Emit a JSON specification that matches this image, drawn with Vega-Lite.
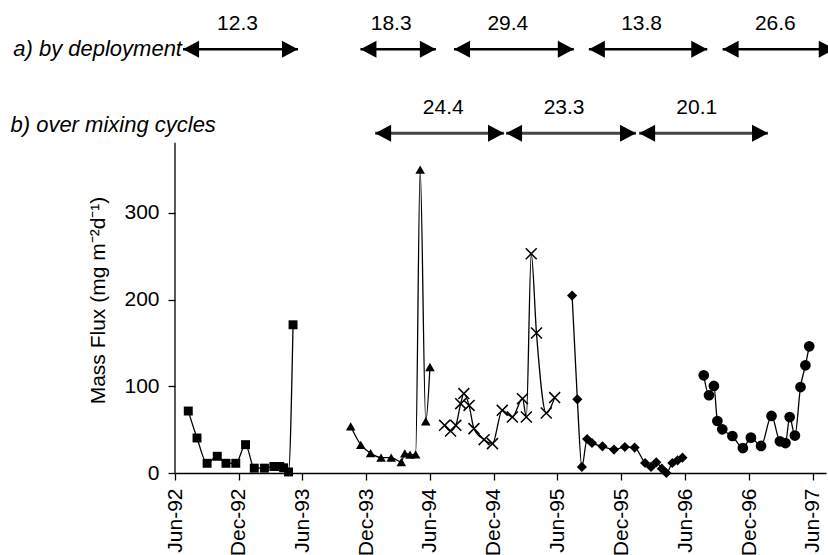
{
  "$schema": "https://vega.github.io/schema/vega-lite/v6.json",
  "width": 651,
  "height": 472,
  "autosize": {"type": "none"},
  "padding": {"left": 175, "top": 1, "right": 2, "bottom": 82},
  "background": "white",
  "config": {"view": {"stroke": null}, "font": "Liberation Sans"},
  "datasets": {
    "flux": [
      {"s": "sq", "d": "1992-07-09", "v": 71.5},
      {"s": "sq", "d": "1992-08-03", "v": 40.4},
      {"s": "sq", "d": "1992-09-01", "v": 11.2},
      {"s": "sq", "d": "1992-09-30", "v": 19.3},
      {"s": "sq", "d": "1992-10-25", "v": 11.2},
      {"s": "sq", "d": "1992-11-22", "v": 11.2},
      {"s": "sq", "d": "1992-12-20", "v": 32.7},
      {"s": "sq", "d": "1993-01-14", "v": 5.6},
      {"s": "sq", "d": "1993-02-12", "v": 5.6},
      {"s": "sq", "d": "1993-03-11", "v": 7.5},
      {"s": "sq", "d": "1993-03-28", "v": 7.5},
      {"s": "sq", "d": "1993-04-08", "v": 6},
      {"s": "sq", "d": "1993-04-22", "v": 1.2},
      {"s": "sq", "d": "1993-05-05", "v": 171},
      {"s": "tr", "d": "1993-10-17", "v": 53.9},
      {"s": "tr", "d": "1993-11-15", "v": 32.5},
      {"s": "tr", "d": "1993-12-13", "v": 23},
      {"s": "tr", "d": "1994-01-12", "v": 17.8},
      {"s": "tr", "d": "1994-02-10", "v": 17.8},
      {"s": "tr", "d": "1994-03-11", "v": 12.7},
      {"s": "tr", "d": "1994-03-21", "v": 22.7},
      {"s": "tr", "d": "1994-04-05", "v": 21.3},
      {"s": "tr", "d": "1994-04-21", "v": 21.6},
      {"s": "tr", "d": "1994-05-04", "v": 350},
      {"s": "tr", "d": "1994-05-20", "v": 59.7},
      {"s": "tr", "d": "1994-06-01", "v": 122.3},
      {"s": "cx", "d": "1994-07-13", "v": 55},
      {"s": "cx", "d": "1994-07-30", "v": 48.5},
      {"s": "cx", "d": "1994-08-14", "v": 55},
      {"s": "cx", "d": "1994-08-28", "v": 80},
      {"s": "cx", "d": "1994-09-06", "v": 91.6},
      {"s": "cx", "d": "1994-09-21", "v": 78},
      {"s": "cx", "d": "1994-10-05", "v": 51.2},
      {"s": "cx", "d": "1994-11-03", "v": 38.5},
      {"s": "cx", "d": "1994-11-27", "v": 33.9},
      {"s": "cx", "d": "1994-12-25", "v": 72.3},
      {"s": "cx", "d": "1995-01-23", "v": 64.6},
      {"s": "cx", "d": "1995-02-21", "v": 85.8},
      {"s": "cx", "d": "1995-03-04", "v": 64.6},
      {"s": "cx", "d": "1995-03-18", "v": 253},
      {"s": "cx", "d": "1995-04-02", "v": 161.5},
      {"s": "cx", "d": "1995-04-30", "v": 69.2},
      {"s": "cx", "d": "1995-05-24", "v": 87},
      {"s": "di", "d": "1995-07-13", "v": 204.7},
      {"s": "di", "d": "1995-07-28", "v": 85},
      {"s": "di", "d": "1995-08-10", "v": 7},
      {"s": "di", "d": "1995-08-25", "v": 39.2},
      {"s": "di", "d": "1995-09-08", "v": 34.6},
      {"s": "di", "d": "1995-10-08", "v": 30.8},
      {"s": "di", "d": "1995-11-10", "v": 27},
      {"s": "di", "d": "1995-12-11", "v": 30},
      {"s": "di", "d": "1996-01-08", "v": 29.3},
      {"s": "di", "d": "1996-02-07", "v": 11.5},
      {"s": "di", "d": "1996-02-24", "v": 7},
      {"s": "di", "d": "1996-03-10", "v": 12.3},
      {"s": "di", "d": "1996-03-26", "v": 5},
      {"s": "di", "d": "1996-04-08", "v": 0},
      {"s": "di", "d": "1996-04-25", "v": 11.5},
      {"s": "di", "d": "1996-05-10", "v": 14.6},
      {"s": "di", "d": "1996-05-24", "v": 17.7},
      {"s": "ci", "d": "1996-07-24", "v": 112.7},
      {"s": "ci", "d": "1996-08-08", "v": 89.7},
      {"s": "ci", "d": "1996-08-22", "v": 100.4},
      {"s": "ci", "d": "1996-09-01", "v": 60},
      {"s": "ci", "d": "1996-09-15", "v": 50.4},
      {"s": "ci", "d": "1996-10-14", "v": 42.7},
      {"s": "ci", "d": "1996-11-13", "v": 28.8},
      {"s": "ci", "d": "1996-12-06", "v": 40.8},
      {"s": "ci", "d": "1997-01-04", "v": 31.2},
      {"s": "ci", "d": "1997-02-03", "v": 65.8},
      {"s": "ci", "d": "1997-02-27", "v": 36.6},
      {"s": "ci", "d": "1997-03-15", "v": 34.6},
      {"s": "ci", "d": "1997-03-27", "v": 64.6},
      {"s": "ci", "d": "1997-04-11", "v": 43.2},
      {"s": "ci", "d": "1997-04-27", "v": 99.2},
      {"s": "ci", "d": "1997-05-11", "v": 124.3},
      {"s": "ci", "d": "1997-05-22", "v": 146.2}
    ],
    "arrows": [
      {"row": "a", "start": "1992-06-24", "end": "1993-05-19", "y": 489, "label": "12.3", "lx": "1992-11-27", "ly": 518},
      {"row": "a", "start": "1993-11-14", "end": "1994-06-18", "y": 489, "label": "18.3", "lx": "1994-02-10", "ly": 518},
      {"row": "a", "start": "1994-08-09", "end": "1995-07-18", "y": 489, "label": "29.4", "lx": "1995-01-10", "ly": 518},
      {"row": "a", "start": "1995-08-30", "end": "1996-08-03", "y": 489, "label": "13.8", "lx": "1996-01-28", "ly": 518},
      {"row": "a", "start": "1996-09-16", "end": "1997-08-03", "y": 489, "label": "26.6", "lx": "1997-02-14", "ly": 518},
      {"row": "b", "start": "1993-12-26", "end": "1994-12-30", "y": 392, "label": "24.4", "lx": "1994-07-09", "ly": 421},
      {"row": "b", "start": "1995-01-05", "end": "1996-01-12", "y": 392, "label": "23.3", "lx": "1995-06-20", "ly": 421},
      {"row": "b", "start": "1996-01-21", "end": "1997-01-24", "y": 392, "label": "20.1", "lx": "1996-07-04", "ly": 421}
    ],
    "rowtitles": [
      {"text": "a) by deployment", "d": "1992-06-21", "y": 489},
      {"text": "b) over mixing cycles", "d": "1992-09-26", "y": 401}
    ],
    "yaxis": [{"d": "1992-06-01", "y0": 0, "y1": 381}]
  },
  "layer": [
    {
      "data": {"name": "flux"},
      "mark": {"type": "line", "color": "black", "strokeWidth": 1.3, "interpolate": "monotone"},
      "encoding": {
        "x": {
          "field": "d", "type": "temporal",
          "scale": {"type": "utc", "domain": [{"year": 1992, "month": 6, "date": 1, "utc": true}, {"year": 1997, "month": 7, "date": 9, "utc": true}], "nice": false},
          "axis": {
            "title": null, "grid": false,
            "values": [
              {"year": 1992, "month": 6, "date": 1, "utc": true},
              {"year": 1992, "month": 12, "date": 1, "utc": true},
              {"year": 1993, "month": 6, "date": 1, "utc": true},
              {"year": 1993, "month": 12, "date": 1, "utc": true},
              {"year": 1994, "month": 6, "date": 1, "utc": true},
              {"year": 1994, "month": 12, "date": 1, "utc": true},
              {"year": 1995, "month": 6, "date": 1, "utc": true},
              {"year": 1995, "month": 12, "date": 1, "utc": true},
              {"year": 1996, "month": 6, "date": 1, "utc": true},
              {"year": 1996, "month": 12, "date": 1, "utc": true},
              {"year": 1997, "month": 6, "date": 1, "utc": true}
            ],
            "labelExpr": "utcFormat(datum.value, '%b-%y')",
            "labelAngle": 270, "labelAlign": "right", "labelBaseline": "middle",
            "labelFontSize": 21, "labelColor": "black", "labelPadding": 8,
            "labelOverlap": false, "labelFlush": false, "labelBound": false,
            "tickSize": 7, "tickColor": "black", "tickWidth": 1.3,
            "domainColor": "black", "domainWidth": 1.3
          }
        },
        "y": {
          "field": "v", "type": "quantitative",
          "scale": {"domain": [0, 544.6], "nice": false},
          "axis": {
            "values": [0, 100, 200, 300], "grid": false, "domain": false,
            "tickSize": 7, "tickColor": "black", "tickWidth": 1.3,
            "labelFontSize": 21, "labelColor": "black", "labelPadding": 9,
            "title": "Mass Flux (mg m⁻²d⁻¹)", "titleFontSize": 21, "titleFontWeight": "normal",
            "titleColor": "black", "titleAngle": 270, "titleX": -77, "titleY": 299,
            "titleAlign": "center", "titleBaseline": "middle"
          }
        },
        "detail": {"field": "s"}
      }
    },
    {
      "data": {"name": "yaxis"},
      "mark": {"type": "rule", "color": "black", "strokeWidth": 1.3},
      "encoding": {
        "x": {"field": "d", "type": "temporal"},
        "y": {"field": "y0", "type": "quantitative"},
        "y2": {"field": "y1"}
      }
    },
    {
      "data": {"name": "flux"},
      "transform": [{"filter": "datum.s !== 'cx'"}],
      "mark": {"type": "point", "filled": true, "color": "black", "opacity": 1},
      "encoding": {
        "x": {"field": "d", "type": "temporal"},
        "y": {"field": "v", "type": "quantitative"},
        "shape": {"field": "s", "type": "nominal", "scale": {"domain": ["sq", "tr", "di", "ci"], "range": ["square", "triangle-up", "diamond", "circle"]}, "legend": null},
        "size": {"field": "s", "type": "nominal", "scale": {"domain": ["sq", "tr", "di", "ci"], "range": [80, 115, 170, 130]}, "legend": null}
      }
    },
    {
      "data": {"name": "flux"},
      "transform": [{"filter": "datum.s === 'cx'"}],
      "mark": {"type": "point", "filled": false, "color": "black", "opacity": 1, "strokeWidth": 1.5, "shape": "M-1,-1L1,1M-1,1L1,-1", "size": 120},
      "encoding": {
        "x": {"field": "d", "type": "temporal"},
        "y": {"field": "v", "type": "quantitative"}
      }
    },
    {
      "data": {"name": "arrows"},
      "transform": [{"filter": "datum.row === 'a'"}],
      "mark": {"type": "rule", "color": "black", "strokeWidth": 2.5},
      "encoding": {
        "x": {"field": "start", "type": "temporal"},
        "x2": {"field": "end"},
        "y": {"field": "y", "type": "quantitative"}
      }
    },
    {
      "data": {"name": "arrows"},
      "transform": [{"filter": "datum.row === 'b'"}],
      "mark": {"type": "rule", "color": "#444444", "strokeWidth": 3},
      "encoding": {
        "x": {"field": "start", "type": "temporal"},
        "x2": {"field": "end"},
        "y": {"field": "y", "type": "quantitative"}
      }
    },
    {
      "data": {"name": "arrows"},
      "mark": {"type": "point", "filled": true, "color": "black", "opacity": 1, "shape": "M-1,0L1,-1.07L1,1.07Z", "size": 256, "xOffset": 8},
      "encoding": {
        "x": {"field": "start", "type": "temporal"},
        "y": {"field": "y", "type": "quantitative"}
      }
    },
    {
      "data": {"name": "arrows"},
      "mark": {"type": "point", "filled": true, "color": "black", "opacity": 1, "shape": "M1,0L-1,-1.07L-1,1.07Z", "size": 256, "xOffset": -8},
      "encoding": {
        "x": {"field": "end", "type": "temporal"},
        "y": {"field": "y", "type": "quantitative"}
      }
    },
    {
      "data": {"name": "arrows"},
      "mark": {"type": "text", "fontSize": 21, "color": "black", "align": "center", "baseline": "middle"},
      "encoding": {
        "x": {"field": "lx", "type": "temporal"},
        "y": {"field": "ly", "type": "quantitative"},
        "text": {"field": "label"}
      }
    },
    {
      "data": {"name": "rowtitles"},
      "mark": {"type": "text", "fontSize": 22, "fontStyle": "italic", "color": "black", "align": "right", "baseline": "middle"},
      "encoding": {
        "x": {"field": "d", "type": "temporal"},
        "y": {"field": "y", "type": "quantitative"},
        "text": {"field": "text"}
      }
    }
  ]
}
